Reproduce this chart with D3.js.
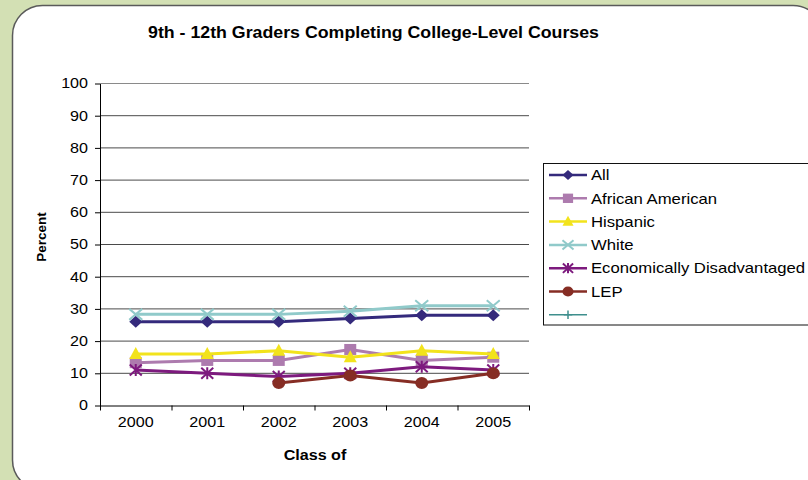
<!DOCTYPE html>
<html><head><meta charset="utf-8">
<script src="https://cdn.jsdelivr.net/npm/d3@7"></script>
<style>
html,body{margin:0;padding:0;background:#d3e0b4;}
svg{display:block;font-family:"Liberation Sans",Arial,sans-serif;}
</style></head>
<body>
<svg id="chart" width="808" height="480"></svg>
<script>
const years = ["2000","2001","2002","2003","2004","2005"];
const yTicks = [0,10,20,30,40,50,60,70,80,90,100];
const seriesNames = ["All","African American","Hispanic","White","Economically Disadvantaged","LEP",""];
const allVals = [26,26,26,27,28,28];
const africanAmericanVals = [13.3,14,14,17.4,14,15];
const hispanicVals = [16,16,17,15,17,16];
const whiteVals = [28.3,28.3,28.3,29.3,31,31];
const econVals = [11,10,9,10,12,11];
const lepVals = [null,null,7,9.3,7,10];
const blankVals = [null,null,null,null,null,null];

const colors = ["#342a7c","#ad7bae","#f2e31c","#90caca","#7d1a7e","#862d24","#3f8f8d"];
const shapes = ["diamond","square","triangle","x","star","circle","plus"];
const seriesVals = [allVals,africanAmericanVals,hispanicVals,whiteVals,econVals,lepVals,blankVals];

const svg = d3.select("#chart");
const SX = 1.15;
function stretch(sel, k){
  const f = k||SX;
  sel.each(function(){
    const l = this.getComputedTextLength();
    d3.select(this).attr("textLength", l*f).attr("lengthAdjust","spacingAndGlyphs");
  });
}

// panel
svg.append("rect").attr("x",12.5).attr("y",5.5).attr("width",810.5).attr("height",484.5)
  .attr("rx",30).attr("ry",30).attr("fill","#fff").attr("stroke","#5a5a5a").attr("stroke-width",1.5);

const L=100,R=529,T=83.5,B=405.5;
const x = d3.scaleBand().domain(years).range([L,R]);
const xb = d3.scaleLinear().domain([0,years.length]).range([L,R]);
const y = d3.scaleLinear().domain([0,100]).range([B,T]);

// title
const title = svg.append("text").attr("x",373.5).attr("y",38).attr("text-anchor","middle")
  .attr("font-size",16.5).attr("font-weight","bold").text("9th - 12th Graders Completing College-Level Courses");
title.attr("textLength",451).attr("lengthAdjust","spacingAndGlyphs");

// gridlines
svg.append("g").selectAll("line").data(yTicks.filter(d=>d>0)).join("line")
  .attr("x1",L).attr("x2",R).attr("y1",d=>y(d)).attr("y2",d=>y(d))
  .attr("stroke",d=>d===100?"#8a8a8a":"#4a4a4a").attr("stroke-width",1);

// y axis
const gy = svg.append("g").attr("transform",`translate(${L},0)`)
  .call(d3.axisLeft(y).tickValues(yTicks).tickSize(5).tickSizeOuter(0).tickPadding(7));
gy.select(".domain").attr("stroke","#000");
gy.selectAll(".tick line").attr("stroke","#000");
gy.selectAll("text").attr("font-size",14).attr("fill","#000").attr("font-family","Liberation Sans, Arial, sans-serif").call(stretch);

// x axis
const gxt = svg.append("g").attr("transform",`translate(0,${B})`)
  .call(d3.axisBottom(xb).ticks(years.length).tickSize(5).tickSizeOuter(0).tickFormat(""));
gxt.select(".domain").attr("stroke","#000");
gxt.selectAll(".tick line").attr("stroke","#000");
const gx = svg.append("g").attr("transform",`translate(0,${B})`)
  .call(d3.axisBottom(x).tickSize(0).tickPadding(12));
gx.select(".domain").remove();
gx.selectAll("text").attr("font-size",14).attr("fill","#000").attr("font-family","Liberation Sans, Arial, sans-serif").call(stretch);

// axis titles
svg.append("text").attr("x",315).attr("y",460).attr("text-anchor","middle")
  .attr("font-size",14).attr("font-weight","bold").text("Class of").call(stretch);
svg.append("text").attr("transform","translate(46,237) rotate(-90)").attr("text-anchor","middle")
  .attr("font-size",13.5).attr("font-weight","bold").text("Percent");

function marker(g, shape, color, k){
  const s = k||1;
  if(shape==="diamond"){
    g.append("path").attr("d",`M0,${-6*s}L${6.5*s},0L0,${6*s}L${-6.5*s},0Z`).attr("fill",color);
  } else if(shape==="square"){
    g.append("rect").attr("x",-6*s).attr("y",-5.5*s).attr("width",12*s).attr("height",11*s).attr("fill",color);
  } else if(shape==="triangle"){
    g.append("path").attr("d",`M0,${-7*s}L${6.5*s},${5*s}L${-6.5*s},${5*s}Z`).attr("fill",color);
  } else if(shape==="x"){
    g.append("path").attr("d",`M${-6.5*s},${-5.5*s}L${6.5*s},${5.5*s}M${-6.5*s},${5.5*s}L${6.5*s},${-5.5*s}`)
      .attr("stroke",color).attr("stroke-width",2).attr("fill","none");
  } else if(shape==="star"){
    g.append("path").attr("d",`M${-6*s},${-5.5*s}L${6*s},${5.5*s}M${-6*s},${5.5*s}L${6*s},${-5.5*s}M0,${-6*s}L0,${6*s}`)
      .attr("stroke",color).attr("stroke-width",2).attr("fill","none");
  } else if(shape==="circle"){
    g.append("ellipse").attr("rx",6.5*s).attr("ry",6*s).attr("fill",color);
  } else if(shape==="plus"){
    g.append("path").attr("d",`M${-5*s},0L${5*s},0M0,${-5*s}L0,${5*s}`)
      .attr("stroke",color).attr("stroke-width",1.5).attr("fill","none");
  }
}

// series
const cx = d => x(d) + x.bandwidth()/2;
seriesVals.forEach((vals,i)=>{
  const pts = years.map((yr,j)=>({yr, v: vals[j]})).filter(p=>p.v!==null);
  if(pts.length===0) return;
  const line = d3.line().x(p=>cx(p.yr)).y(p=>y(p.v));
  const g = svg.append("g");
  g.append("path").attr("d",line(pts)).attr("fill","none").attr("stroke",colors[i]).attr("stroke-width",3);
  pts.forEach(p=>{
    const mg = g.append("g").attr("transform",`translate(${cx(p.yr)},${y(p.v)})`);
    marker(mg, shapes[i], colors[i], 1);
  });
});

// legend
const lg = svg.append("g");
lg.append("rect").attr("x",543.5).attr("y",163.5).attr("width",300).attr("height",161.5)
  .attr("fill","#fff").attr("stroke","#111").attr("stroke-width",1);
seriesNames.forEach((name,i)=>{
  const cy = 175 + i*23.3;
  const g = lg.append("g");
  g.append("line").attr("x1",549).attr("x2",587).attr("y1",cy).attr("y2",cy)
    .attr("stroke",colors[i]).attr("stroke-width",i===6?1.5:2.5);
  const mg = g.append("g").attr("transform",`translate(568,${cy})`);
  marker(mg, shapes[i], colors[i], 0.85);
  if(name) g.append("text").attr("x",591).attr("y",cy+5.2).attr("font-size",14.5).attr("fill","#000").text(name).call(stretch);
});
</script>
</body></html>
